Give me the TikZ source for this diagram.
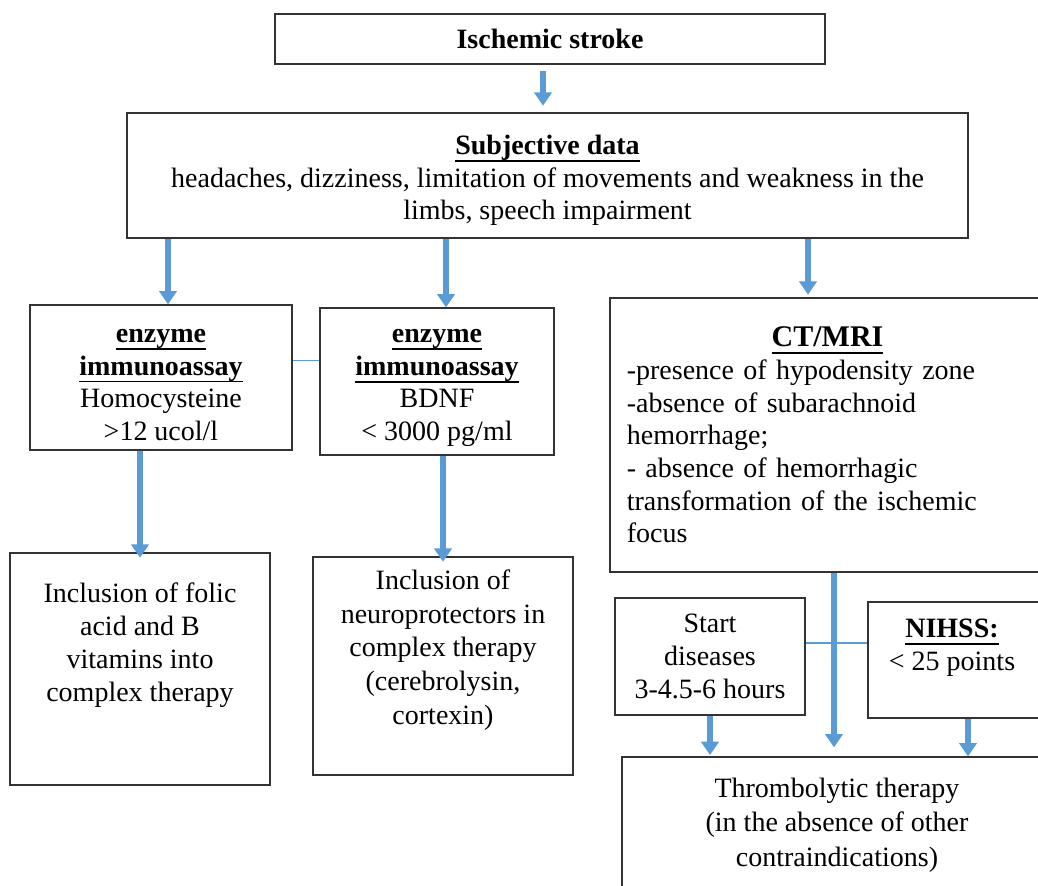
\documentclass[tikz,border=0pt]{standalone}
\usepackage{fontspec}
\setmainfont{Liberation Serif}
\usetikzlibrary{positioning, arrows.meta, calc}
\definecolor{flowblue}{HTML}{5B9BD5}
\definecolor{boxline}{HTML}{333333}
\newcommand{\hdline}[1]{\setbox0=\hbox{\bfseries #1}\leavevmode\rlap{\rule[-5.5pt]{\wd0}{1.3pt}}\box0}

\begin{document}
\begin{tikzpicture}[x=0.75pt, y=-0.75pt,
    font=\fontsize{21pt}{24.5pt}\selectfont,
    box/.style={draw=boxline, line width=1pt, rectangle, inner sep=0pt, align=center},
    txt/.style={inner sep=0pt, align=center},
    flow/.style={draw=flowblue, line width=4pt, -{Triangle[width=13pt, length=10pt]}},
    link/.style={draw=flowblue, line width=1pt}]
    \useasboundingbox (0,0) rectangle (1038,885);
    \fill[white] (0,0) rectangle (1038,885);
    \clip (0,0) rectangle (1038,885);

    % boxes
    \node[box, minimum width=412.5pt, minimum height=37.5pt] (stroke) at (550,39) {\textbf{Ischemic stroke}};
    \node[box, minimum width=630.75pt, minimum height=93.75pt] (subj) at (547.5,175.5) {};
    \node[txt] (subj-txt) at (547.5,180.5) {\hdline{Subjective data}\\ headaches, dizziness, limitation of movements and weakness in the\\ limbs, speech impairment};
    \node[box, minimum width=196.5pt, minimum height=108.75pt] (eia1) at (161,377.5) {};
    \node[txt] (eia1-txt) at (161,385) {\hdline{enzyme}\\ \hdline{immunoassay}\\ Homocysteine\\ >12 ucol/l};
    \node[box, minimum width=175.5pt, minimum height=110.25pt] (eia2) at (437,381.5) {};
    \node[txt] (eia2-txt) at (437,388) {\hdline{enzyme}\\ \hdline{immunoassay}\\ BDNF\\ < 3000 pg/ml};
    \node[box, minimum width=326.25pt, minimum height=205.5pt, text width=301pt, align=left] (ct) at (827.5,435) {\makebox[\linewidth]{\fontsize{22.5pt}{26pt}\selectfont\hdline{CT/MRI}}\\ -presence of hypodensity zone\\ -absence of subarachnoid\\ hemorrhage;\\ - absence of hemorrhagic\\ transformation of the ischemic\\ focus};
    \node[box, minimum width=142.5pt, minimum height=87.75pt] (start) at (710,656.5) {Start\\ diseases\\ 3-4.5-6 hours};
    \node[box, minimum width=133.5pt, minimum height=87pt] (nihss) at (957,660) {};
    \node[txt] (nihss-txt) at (952,647.5) {\hdline{NIHSS:}\\ < 25 points};
    \node[box, minimum width=195pt, minimum height=174pt] (folic) at (140,669) {};
    \node[txt, font=\fontsize{21pt}{24.75pt}\selectfont] (folic-txt) at (140,645) {Inclusion of folic\\ acid and B\\ vitamins into\\ complex therapy};
    \node[box, minimum width=195pt, minimum height=163.5pt] (neuro) at (443,666) {};
    \node[txt, font=\fontsize{21pt}{25.3pt}\selectfont] (neuro-txt) at (443,650) {Inclusion of\\ neuroprotectors in\\ complex therapy\\ (cerebrolysin,\\ cortexin)};
    \node[box, minimum width=318pt, minimum height=103.5pt] (thromb) at (834,826) {};
    \node[txt, font=\fontsize{21pt}{26pt}\selectfont] (thromb-txt) at (837,825) {Thrombolytic therapy\\ (in the absence of other\\ contraindications)};

    % arrow columns
    \coordinate (s1) at ($(stroke.south)+(-7,0)$);
    \coordinate (d1) at ($(eia1.north)+(7,0)$);
    \coordinate (d2) at ($(eia2.north)+(9,0)$);
    \coordinate (d3) at ($(ct.north)+(-19.5,0)$);
    \coordinate (d4) at ($(nihss.south)+(11,0)$);
    \coordinate (l1) at ($(eia1.east)+(0,-17)$);
    \coordinate (l2) at ($(start.east)+(0,-13.5)$);

    \draw[link] (l1) -- (l1 -| eia2.west);
    \draw[link] (l2) -- (l2 -| nihss.west);

    \draw[flow, shorten <=5pt, shorten >=5pt] (s1) -- (s1 |- subj.north);
    \draw[flow] (d1 |- subj.south) -- (d1);
    \draw[flow] (d2 |- subj.south) -- (d2);
    \draw[flow, shorten >=2pt] (d3 |- subj.south) -- (d3);
    \draw[flow, shorten >=-4pt] (eia1.south -| folic.north) -- (folic.north);
    \draw[flow, shorten >=-4pt] (eia2.south -| neuro.north) -- (neuro.north);
    \draw[flow, shorten >=6.75pt] (ct.south -| thromb.north) -- (thromb.north);
    \draw[flow, shorten >=1pt] (start.south) -- (start.south |- thromb.north);
    \draw[flow] (d4) -- (d4 |- thromb.north);
\end{tikzpicture}
\end{document}
